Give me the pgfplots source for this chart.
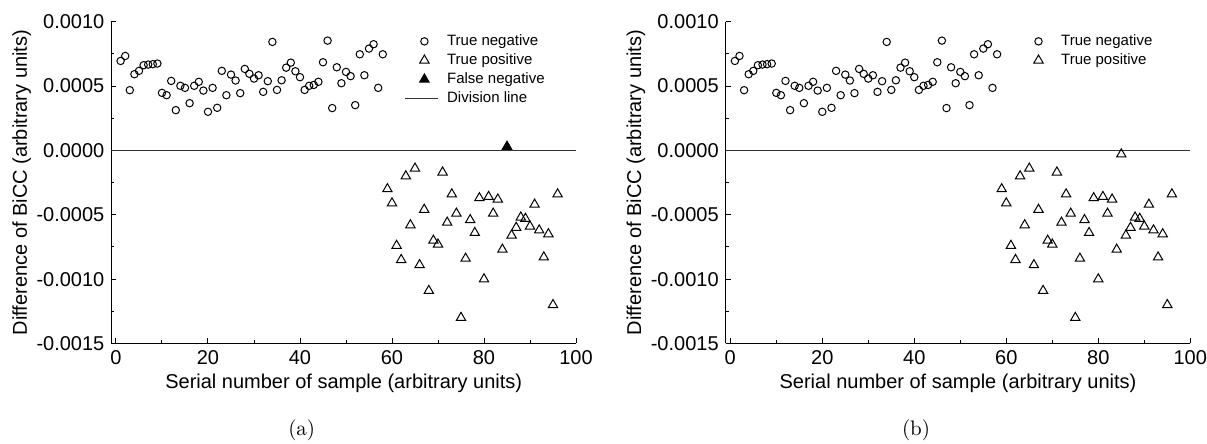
\documentclass[border=0pt]{standalone}
\usepackage{fontspec}
\usepackage{pgfplots}
\usepackage{pgfplotstable}
\pgfplotsset{compat=1.18}
\newfontfamily\arial{Liberation Sans}

\pgfplotstableread{
x y
1 0.000695
2 0.000734
3 0.000468
4 0.000592
5 0.000618
6 0.000662
7 0.000667
8 0.000670
9 0.000675
10 0.000447
11 0.000429
12 0.000540
13 0.000313
14 0.000502
15 0.000486
16 0.000367
17 0.000502
18 0.000533
19 0.000465
20 0.000300
21 0.000486
22 0.000331
23 0.000618
24 0.000429
25 0.000589
26 0.000543
27 0.000445
28 0.000633
29 0.000595
30 0.000558
31 0.000584
32 0.000455
33 0.000538
34 0.000843
35 0.000470
36 0.000545
37 0.000643
38 0.000682
39 0.000615
40 0.000569
41 0.000470
42 0.000502
43 0.000509
44 0.000533
45 0.000685
46 0.000853
47 0.000329
48 0.000646
49 0.000522
50 0.000610
51 0.000577
52 0.000352
53 0.000747
54 0.000584
55 0.000791
56 0.000825
57 0.000486
58 0.000747
}\tneg

\pgfplotstableread{
x y
59 -0.00030
60 -0.00041
61 -0.00074
62 -0.00085
63 -0.00020
64 -0.00058
65 -0.00014
66 -0.00089
67 -0.00046
68 -0.00109
69 -0.00070
70 -0.00073
71 -0.00017
72 -0.00056
73 -0.00034
74 -0.00049
75 -0.00130
76 -0.00084
77 -0.00054
78 -0.00064
79 -0.00037
80 -0.00100
81 -0.00036
82 -0.00049
83 -0.00038
84 -0.00077
86 -0.00066
87 -0.00060
88 -0.00052
89 -0.00053
90 -0.00059
91 -0.00042
92 -0.00062
93 -0.00083
94 -0.00065
95 -0.00120
96 -0.00034
}\tpos

\pgfplotsset{
  lineimg/.style={legend image code/.code={\draw[black!80, line width=0.6pt] (0pt,0pt) -- (16.3pt,0pt); \path (19.3pt,0pt);}},
  myaxis/.style={
    width=232.3pt, height=160.9pt, scale only axis,
    xmin=-1, xmax=100, ymin=-0.0015, ymax=0.001,
    clip=false,
    axis x line*=bottom, axis y line*=left,
    xtick={0,20,40,60,80,100}, xticklabels={0,20,40,60,80,100},
    minor x tick num=1,
    ytick={-0.0015,-0.001,-0.0005,0,0.0005,0.001},
    yticklabels={-0.0015,-0.0010,-0.0005,0.0000,0.0005,0.0010},
    scaled y ticks=false,
    minor y tick num=1,
    tick align=inside,
    major tick length=2.5pt, minor tick length=1.5pt,
    every tick/.style={black, line width=0.5pt},
    axis line style={line width=0.5pt, -},
    tick label style={font=\arial\fontsize{10}{12}\selectfont},
    label style={font=\arial\fontsize{10}{12}\selectfont},
    xlabel={Serial number of sample (arbitrary units)},
    ylabel={Difference of BiCC (arbitrary units)},
    xlabel style={at={(axis description cs:0.5,-0.1227)}, anchor=center},
    ylabel style={at={(axis description cs:-0.193,0.5)}, anchor=center},
    legend style={draw=none, fill=none, at={(rel axis cs:0.630,0.965)}, anchor=north west,
      font=\arial\fontsize{7.5}{9}\selectfont, inner sep=0pt, row sep=1.5pt, column sep=1pt,
      nodes={inner sep=0.5pt, text height=5.5pt, text depth=1.5pt}},
    legend cell align=left,
    legend image code/.code={\path (0pt,0pt) (19.3pt,0pt); \draw[mark repeat=2,mark phase=2,##1] plot coordinates {(0pt,0pt)(9.65pt,0pt)(19.3pt,0pt)};},
  },
  circ/.style={only marks, mark=o, mark size=1.85pt, mark options={line width=0.5pt, black}},
  tri/.style={only marks, mark=triangle, mark size=2.7pt, mark options={line width=0.5pt, black}},
  trifill/.style={only marks, mark=triangle*, mark size=2.7pt, mark options={line width=0.5pt, black, fill=black}},
}

\begin{document}
\begin{tikzpicture}
\path[use as bounding box] (-55.7pt,-50.25pt) rectangle (547.8pt,171.75pt);

\begin{axis}[myaxis, at={(0pt,0pt)}]
\addplot[black!80, line width=0.6pt, forget plot] coordinates {(-1,0) (100,0)};
\addplot[circ] table[x=x,y=y] {\tneg};
\addlegendentry{True negative}
\addplot[tri] table[x=x,y=y] {\tpos};
\addlegendentry{True positive}
\addplot[trifill] coordinates {(85,0.00003)};
\addlegendentry{False negative}
\addlegendimage{lineimg}
\addlegendentry{Division line}
\node[font=\fontsize{10.5}{12}\selectfont] at (rel axis cs:0.4097,-0.2688) {(a)};
\end{axis}

\begin{axis}[myaxis, at={(307.15pt,0pt)}]
\addplot[black!80, line width=0.6pt, forget plot] coordinates {(-1,0) (100,0)};
\addplot[circ] table[x=x,y=y] {\tneg};
\addlegendentry{True negative}
\addplot[tri] table[x=x,y=y] {\tpos};
\addlegendentry{True positive}
\addplot[tri, forget plot] coordinates {(85,-0.00003)};
\node[font=\fontsize{10.5}{12}\selectfont] at (rel axis cs:0.4097,-0.2688) {(b)};
\end{axis}
\end{tikzpicture}
\end{document}
